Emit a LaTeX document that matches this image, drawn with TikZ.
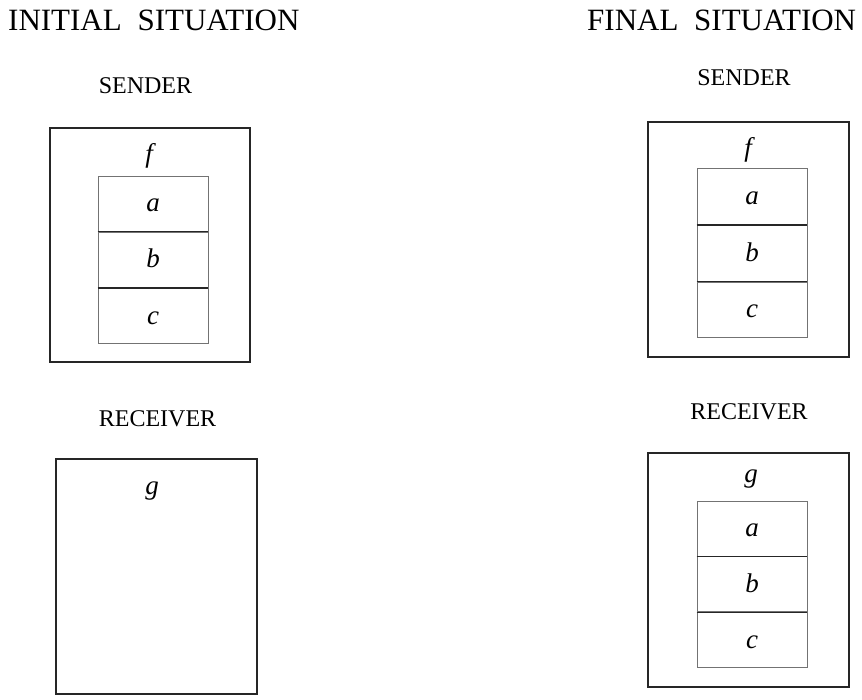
\documentclass[tikz,border=0pt]{standalone}
\usepackage{fontspec}
\setmainfont{Liberation Serif}
\newcommand\ttlfont{\fontsize{31}{37}\selectfont}
\newcommand\lblfont{\fontsize{24}{29}\selectfont}
\newcommand\letfont{\fontsize{27}{32}\selectfont\itshape}
\begin{document}
\begin{tikzpicture}[x=1pt,y=-1pt,
  outerbox/.style={draw=black!85, line width=2.9pt, inner sep=0pt, minimum width=200pt, minimum height=234pt},
  cellbox/.style={draw=black!55, line width=0.9pt, inner sep=0pt, minimum width=110pt, text height=16pt, text depth=0pt, font=\letfont},
  divider/.style={draw=black!85, line width=1.3pt},
  ttl/.style={font=\ttlfont, inner sep=0pt, anchor=base west},
  lbl/.style={font=\lblfont, inner sep=0pt, anchor=base},
  var/.style={font=\letfont, inner sep=0pt, anchor=base}
]
\useasboundingbox (0,0) rectangle (862,700);

% titles
\node[ttl] (ti) at (8,31) {INITIAL\hspace{8pt} SITUATION};
\node[ttl] (tf) at (587,31) {FINAL\hspace{8pt} SITUATION};

% labels
\node[lbl] (ls) at (145.5,94) {SENDER};
\node[lbl] (lr) at (157.5,426) {RECEIVER};
\node[lbl] (rs) at (744,86) {SENDER};
\node[lbl] (rr) at (749,419) {RECEIVER};

% initial sender
\node[outerbox] (isend) at (150,245) {};
\node[var] (if) at (149,163) {f};
\node[cellbox, minimum height=55.3pt] (ia) at (153,203.7) {a};
\node[cellbox, minimum height=55.3pt, anchor=north] (ib) at (ia.south) {b};
\node[cellbox, minimum height=55.3pt, anchor=north] (ic) at (ib.south) {c};
\draw[divider] (ia.south west) -- (ia.south east);
\draw[divider] (ib.south west) -- (ib.south east);

% initial receiver
\node[outerbox, minimum width=201pt, minimum height=235pt] (irec) at (156.5,576.5) {};
\node[var] (ig) at (152,494) {g};

% final sender
\node[outerbox, minimum width=201pt, minimum height=235pt] (fsend) at (748.5,239.5) {};
\node[var] (ff) at (748,157) {f};
\node[cellbox, minimum height=55.7pt] (fa) at (752,196.8) {a};
\node[cellbox, minimum height=55.7pt, anchor=north] (fb) at (fa.south) {b};
\node[cellbox, minimum height=55.7pt, anchor=north] (fc) at (fb.south) {c};
\draw[divider] (fa.south west) -- (fa.south east);
\draw[divider] (fb.south west) -- (fb.south east);

% final receiver
\node[outerbox, minimum width=201pt] (frec) at (748.5,570) {};
\node[var] (fg) at (751,482) {g};
\node[cellbox, minimum height=55pt] (ga) at (752,528.5) {a};
\node[cellbox, minimum height=55pt, anchor=north] (gb) at (ga.south) {b};
\node[cellbox, minimum height=55pt, anchor=north] (gc) at (gb.south) {c};
\draw[divider] (ga.south west) -- (ga.south east);
\draw[divider] (gb.south west) -- (gb.south east);
\end{tikzpicture}
\end{document}
